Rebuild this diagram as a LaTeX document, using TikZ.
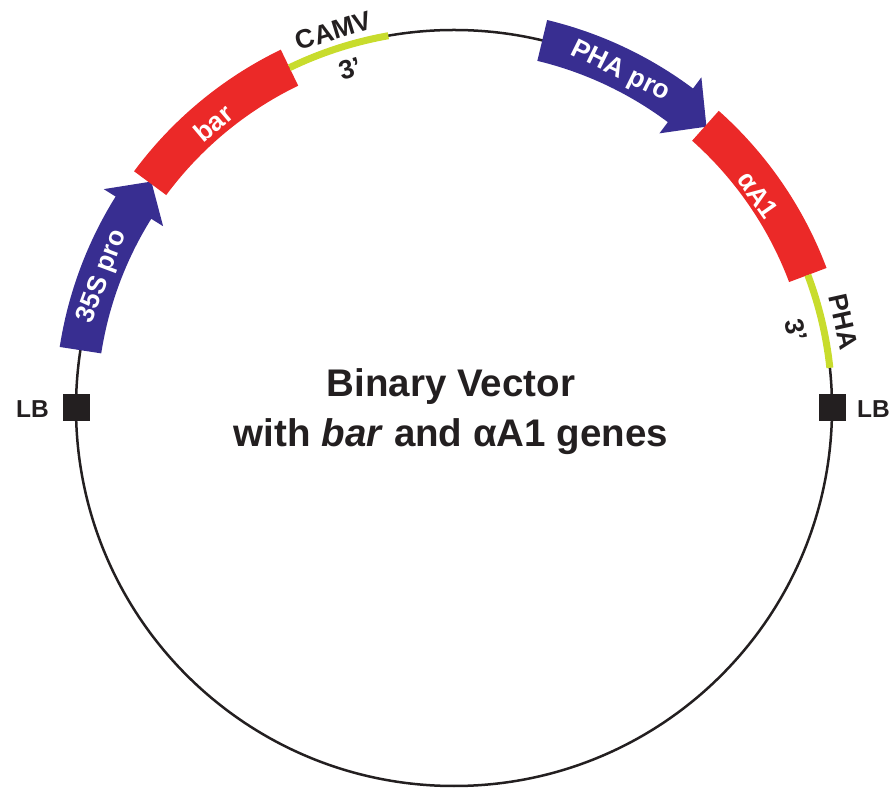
\documentclass[tikz,border=0pt]{standalone}
\usepackage{fontspec}
\setmainfont{Liberation Sans}
\definecolor{dnablue}{RGB}{56,46,145}
\definecolor{dnared}{RGB}{235,41,40}
\definecolor{dnayel}{RGB}{200,220,45}
\definecolor{ink}{RGB}{35,31,32}
\begin{document}
\begin{tikzpicture}[x=1pt,y=1pt,
  lab/.style={font=\bfseries\fontsize{26.5}{30}\selectfont, text=ink, inner sep=0pt},
  lbtxt/.style={font=\bfseries\fontsize{24.5}{28}\selectfont, text=ink, inner sep=0pt},
  wlab/.style={lab, text=white},
  ttl/.style={font=\bfseries\fontsize{38.5}{46}\selectfont, text=ink, inner sep=0pt, anchor=base},
  lbbox/.style={fill=ink, minimum size=27pt, inner sep=0pt},
  term/.style={dnayel, line width=7pt},
  bb/.style={ink, line width=2.5pt}]
\useasboundingbox (0,0) rectangle (891,787);
\begin{scope}[shift={(454,379)}]
  % backbone
  \draw[bb] (0,0) circle[radius=378];
  % 35S pro promoter arrow
  \fill[dnablue] (171.2:399) arc[start angle=171.2, end angle=148, radius=399]
    -- (148:413) -- (143.2:378) -- (148:343) -- (148:357)
    arc[start angle=148, end angle=171.2, radius=357] -- cycle;
  % bar gene
  \fill[dnared] (143.5:398) arc[start angle=143.5, end angle=115.8, radius=398]
    -- (115.8:358) arc[start angle=115.8, end angle=143.5, radius=358] -- cycle;
  % CAMV 3'
  \draw[term] (115.8:378) arc[start angle=115.8, end angle=100, radius=378];
  % PHA pro promoter arrow
  \fill[dnablue] (76.5:399) arc[start angle=76.5, end angle=53.2, radius=399]
    -- (53.2:413) -- (48.1:378) -- (53.2:343) -- (53.2:357)
    arc[start angle=53.2, end angle=76.5, radius=357] -- cycle;
  % alphaA1 gene
  \fill[dnared] (48.3:398) arc[start angle=48.3, end angle=20.6, radius=398]
    -- (20.6:358) arc[start angle=20.6, end angle=48.3, radius=358] -- cycle;
  % PHA 3'
  \draw[term] (20.6:378) arc[start angle=20.6, end angle=6.1, radius=378];
  % LB borders
  \node[lbbox] (lbl) at (180:378) {};
  \node[lbbox] (lbr) at (0:378) {};
  \node[lbtxt, anchor=east] (lbltxt) at (-405,-1) {LB};
  \node[lbtxt, anchor=west] (lbrtxt) at (403,-1) {LB};
  % labels on elements
  \node[wlab, rotate=69.5] (t35s) at (159.5:375) {35S pro};
  \node[wlab, rotate=40.2] (tbar) at (130.2:373) {bar};
  \node[wlab, rotate=-26.3] (tpha) at (63.7:375) {PHA pro};
  \node[wlab, rotate=-55] (taa1) at (35:371) {αA1};
  \node[lab, rotate=17] (tcamv) at (107.7:396) {CAMV};
  \node[lab, rotate=17] (tcamv3) at (107:355) {3’};
  \node[lab, rotate=-77.5] (tpha3n) at (12.5:399) {PHA};
  \node[lab, rotate=-77.5] (tpha3) at (12.8:351) {3’};
  % title
  \node[ttl] (t1) at (-3,11) {Binary Vector};
  \node[ttl] (t2) at (-3,-39) {with \textit{bar} and αA1 genes};
\end{scope}
\end{tikzpicture}
\end{document}
